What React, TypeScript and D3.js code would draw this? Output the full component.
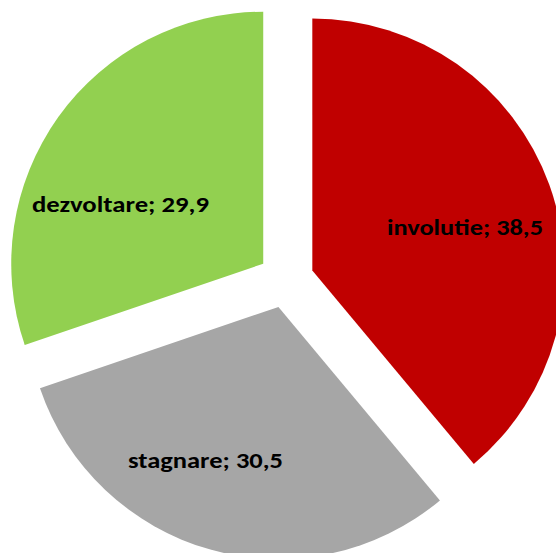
import React from "react";
import * as d3 from "d3";

const categories = ["involutie", "stagnare", "dezvoltare"];
const values = [38.5, 30.5, 29.9];
const valueLabels = ["38,5", "30,5", "29,9"];
const colors = ["#C00000", "#A6A6A6", "#92D050"];
// label anchor offsets from pie centre (style), and text widths
const labelOffsets: [number, number][] = [[179, -45], [-80.5, 188], [-165.5, -68]];
const labelWidths = [156, 155, 177];

export default function App() {
  const width = 556, height = 553;
  const cx = 286, cy = 280, r = 252, explode = 28;
  const pie = d3.pie<number>().sort(null).value((d) => d)(values);
  const arc = d3.arc<d3.PieArcDatum<number>>().innerRadius(0).outerRadius(r);
  return (
    <svg width={width} height={height} style={{ position: "absolute", left: 0, top: 0 }}>
      <rect width={width} height={height} fill="#fff" />
      <g transform={`translate(${cx},${cy})`}>
        {pie.map((p, i) => {
          const mid = (p.startAngle + p.endAngle) / 2;
          const dx = Math.sin(mid) * explode;
          const dy = -Math.cos(mid) * explode;
          return (
            <path key={i} d={arc(p) || ""} fill={colors[i]} transform={`translate(${dx},${dy})`} />
          );
        })}
        {pie.map((p, i) => (
          <text
            key={"t" + i}
            x={labelOffsets[i][0]}
            y={labelOffsets[i][1]}
            textAnchor="middle"
            fontFamily="Carlito, Calibri, 'Open Sans', sans-serif"
            fontWeight="bold"
            fontSize={23}
            fill="#000"
            textLength={labelWidths[i]}
            lengthAdjust="spacingAndGlyphs"
          >
            {`${categories[i]}; ${valueLabels[i]}`}
          </text>
        ))}
      </g>
    </svg>
  );
}
